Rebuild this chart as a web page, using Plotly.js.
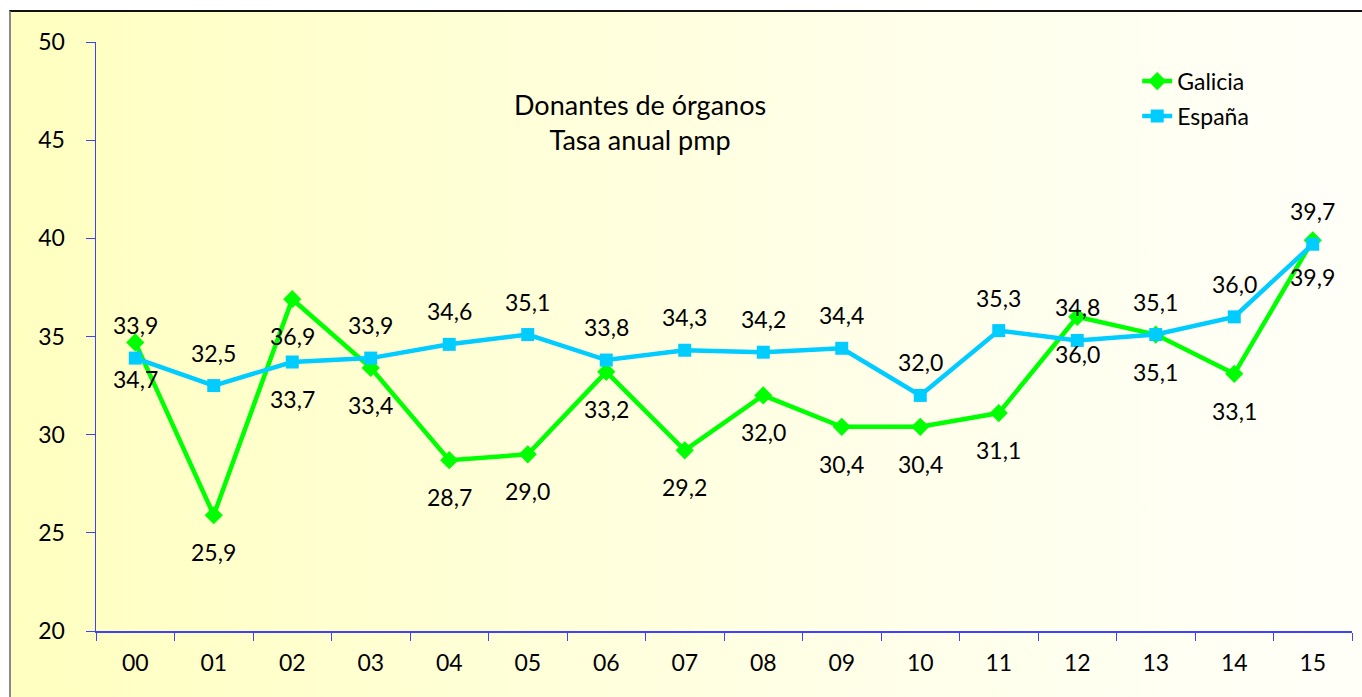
<!DOCTYPE html>
<html>
<head>
<meta charset="utf-8">
<script src="https://cdn.plot.ly/plotly-3.0.1.min.js"></script>
<style>
  html, body { margin:0; padding:0; background:#ffffff; }
  #wrap { position:relative; width:1362px; height:697px; overflow:hidden; background:#ffffff; }
  #box { position:absolute; left:9px; top:10px; width:1400px; height:700px;
         border-top:2px solid #111111; border-left:2px solid #8a8a8a;
         background:linear-gradient(to right, #FFFFC0 0%, #FFFFE8 60%, #FFFFFA 100%); }
  #chart { position:absolute; left:0; top:0; width:1362px; height:697px; }
</style>
</head>
<body>
<div id="wrap">
  <div id="box"></div>
  <div id="chart"></div>
</div>
<script>
// ---- data ----
const years   = ["00","01","02","03","04","05","06","07","08","09","10","11","12","13","14","15"];
const galicia = [34.7, 25.9, 36.9, 33.4, 28.7, 29.0, 33.2, 29.2, 32.0, 30.4, 30.4, 31.1, 36.0, 35.1, 33.1, 39.9];
const espana  = [33.9, 32.5, 33.7, 33.9, 34.6, 35.1, 33.8, 34.3, 34.2, 34.4, 32.0, 35.3, 34.8, 35.1, 36.0, 39.7];
// label placement per point (above / below)
const galiciaLabelPos = ["below","below","below","below","below","below","below","below","below","below","below","below","below","below","below","below"];
const espanaLabelPos  = ["above","above","below","above","above","above","above","above","above","above","above","above","above","above","above","above"];
const chartTitle = "Donantes de órganos<br>Tasa anual pmp";

const FONT = "Lato, 'Open Sans', sans-serif";
const AXIS = "#4040FF";

function fmt(v){ return v.toFixed(1).replace(".", ","); }

function labels(xs, ys, pos){
  return ys.map((v,i) => ({
    x: xs[i], y: v, xref:"x", yref:"y",
    text: fmt(v), showarrow:false,
    yshift: pos[i] === "above" ? 33 : -37,
    yanchor:"middle", xanchor:"center",
    font:{family:FONT, size:23, color:"#000000"}
  }));
}

const traces = [
  {
    x: years, y: galicia, name: "Galicia", type:"scatter", mode:"lines+markers",
    line:{color:"#00FF00", width:4.5},
    marker:{symbol:"diamond", size:14, color:"#00FF00"},
    legendgroup:"g1"
  },
  {
    x: years, y: espana, name: "España", type:"scatter", mode:"lines+markers",
    line:{color:"#00CCFF", width:4.5},
    marker:{symbol:"square", size:13, color:"#00CCFF"},
    legendgroup:"g2"
  }
];

const annotations = [
  ...labels(years, galicia, galiciaLabelPos),
  ...labels(years, espana, espanaLabelPos),
  {
    text: chartTitle, xref:"paper", yref:"paper", x:0.433, y:0.865,
    xanchor:"center", yanchor:"middle", showarrow:false,
    font:{family:FONT, size:27, color:"#000000"}
  }
];

const layout = {
  width:1362, height:697,
  margin:{l:96, r:10, t:42, b:66},
  paper_bgcolor:"rgba(0,0,0,0)",
  plot_bgcolor:"rgba(0,0,0,0)",
  font:{family:FONT, size:23, color:"#000000"},
  showlegend:true,
  legend:{
    x:0.829, y:0.97, xanchor:"left", yanchor:"top",
    bgcolor:"rgba(0,0,0,0)", traceorder:"grouped", tracegroupgap:2,
    font:{family:FONT, size:23, color:"#000000"}
  },
  xaxis:{
    type:"category", range:[-0.5, 15.5], tickson:"boundaries", ticks:"outside", ticklen:8,
    tickcolor:AXIS, tickwidth:1, showline:true, linecolor:AXIS, linewidth:1.5,
    showgrid:false, zeroline:false, ticklabelstandoff:11,
    tickfont:{family:FONT, size:23, color:"#000000"}
  },
  yaxis:{
    range:[20,50], dtick:5, tick0:20, ticks:"outside", ticklen:9,
    tickcolor:AXIS, tickwidth:1, showline:true, linecolor:AXIS, linewidth:1.5,
    showgrid:false, zeroline:false, ticklabelstandoff:16,
    tickfont:{family:FONT, size:23, color:"#000000"}
  },
  annotations: annotations
};

Plotly.newPlot("chart", traces, layout, {displayModeBar:false, staticPlot:true});
</script>
</body>
</html>
